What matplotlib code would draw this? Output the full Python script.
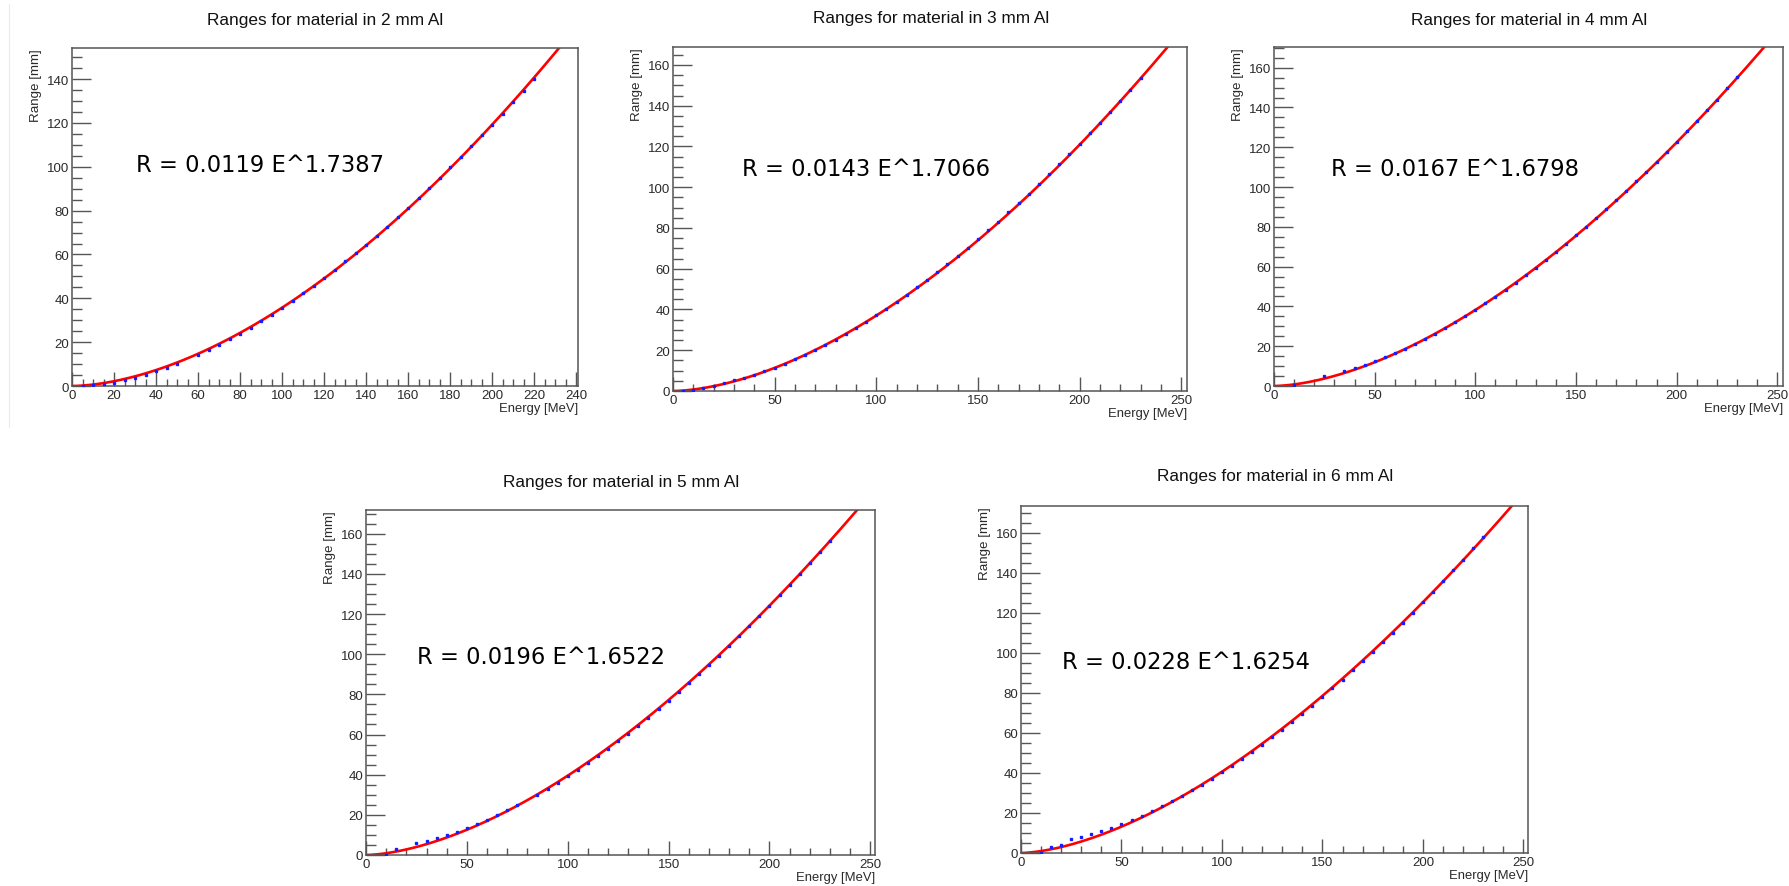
import numpy as np
import matplotlib
matplotlib.use('Agg')
import matplotlib.pyplot as plt
from matplotlib.ticker import MultipleLocator
from matplotlib.lines import Line2D

# Range vs energy in several Al thicknesses, one ROOT-style panel each

thickness = ['2', '3', '4', '5', '6']
fit_a = [0.0119, 0.0143, 0.0167, 0.0196, 0.0228]
fit_b = [1.7387, 1.7066, 1.6798, 1.6522, 1.6254]

energy_2mm = [5, 10, 15, 20, 25, 30, 35, 40, 45, 50, 60, 65, 70, 75, 80, 85, 90, 95,
              100, 105, 110, 115, 120, 125, 130, 135, 140, 145, 150, 155, 160, 165,
              170, 175, 180, 185, 190, 195, 200, 205, 210, 215, 220]
range_2mm = [0.0, 0.3, 0.8, 1.5, 2.6, 3.8, 5.2, 6.8, 8.4, 10.2, 14.2, 16.4, 18.7, 21.3,
             23.9, 26.6, 29.7, 32.6, 35.8, 39.0, 42.3, 45.8, 49.3, 53.0, 56.8, 60.6,
             64.5, 68.5, 72.7, 77.0, 81.3, 85.7, 90.2, 95.0, 99.7, 104.5, 109.4, 114.4,
             119.2, 124.3, 129.5, 134.8, 140.0]

energy_3mm = [5, 10, 15, 20, 25, 30, 35, 40, 45, 50, 55, 60, 65, 70, 75, 80, 85, 90, 95,
              100, 105, 110, 115, 120, 125, 130, 135, 140, 145, 150, 155, 160, 165,
              170, 175, 180, 185, 190, 195, 200, 205, 210, 215, 220, 225, 230]
range_3mm = [0.2, 0.5, 1.6, 2.5, 3.9, 5.2, 6.5, 8.0, 9.8, 11.5, 13.4, 15.5, 17.8, 20.1,
             22.6, 25.2, 28.0, 30.9, 33.9, 37.1, 40.4, 43.7, 47.3, 50.9, 54.5, 58.4,
             62.2, 66.3, 70.3, 74.6, 78.9, 83.1, 87.7, 92.1, 96.9, 101.6, 106.3, 111.4,
             116.5, 121.4, 126.6, 131.7, 137.1, 142.3, 147.7, 153.5]

energy_4mm = [10, 25, 35, 40, 45, 50, 55, 60, 65, 70, 75, 80, 85, 90, 95,
              100, 105, 110, 115, 120, 125, 130, 135, 140, 145, 150, 155, 160, 165,
              170, 175, 180, 185, 190, 195, 200, 205, 210, 215, 220, 225, 230]
range_4mm = [0.3, 4.9, 7.5, 9.0, 10.6, 12.6, 14.4, 16.6, 18.8, 21.1, 23.6, 26.3, 29.2,
             32.0, 35.0, 38.2, 41.5, 44.9, 48.2, 51.9, 55.6, 59.5, 63.3, 67.3, 71.5,
             75.7, 79.9, 84.4, 89.0, 93.5, 98.2, 102.9, 107.7, 112.7, 117.8, 122.8,
             128.0, 133.2, 138.5, 143.9, 149.6, 155.1]

energy_5mm = [10, 15, 25, 30, 35, 40, 45, 50, 55, 60, 65, 70, 75, 85, 90, 95,
              100, 105, 110, 115, 120, 125, 130, 135, 140, 145, 150, 155, 160, 165,
              170, 175, 180, 185, 190, 195, 200, 205, 210, 215, 220, 225, 230]
range_5mm = [0.2, 2.8, 5.8, 7.0, 8.3, 10.0, 11.6, 13.4, 15.4, 17.6, 19.9, 22.4, 24.7,
             30.0, 33.0, 36.0, 39.2, 42.3, 45.8, 49.3, 52.9, 56.6, 60.4, 64.4, 68.4,
             72.5, 76.7, 81.0, 85.5, 90.0, 94.6, 99.3, 104.1, 108.9, 113.9, 119.0,
             124.1, 129.3, 134.6, 139.9, 145.2, 150.9, 156.5]

energy_6mm = [10, 15, 20, 25, 30, 35, 40, 45, 50, 55, 60, 65, 70, 75, 80, 85, 90, 95,
              100, 105, 110, 115, 120, 125, 130, 135, 140, 145, 150, 155, 160, 165,
              170, 175, 180, 185, 190, 195, 200, 205, 210, 215, 220, 225, 230]
range_6mm = [0.2, 3.2, 4.0, 7.0, 8.1, 9.5, 11.0, 12.6, 14.5, 16.5, 18.6, 21.0, 23.3,
             25.9, 28.6, 31.3, 34.1, 37.1, 40.4, 43.6, 46.9, 50.6, 54.1, 57.9, 61.5,
             65.5, 69.5, 73.7, 77.8, 82.3, 86.7, 91.3, 95.8, 100.5, 105.3, 110.1,
             115.1, 120.1, 125.2, 130.4, 135.9, 141.2, 146.6, 152.2, 157.7]

energies = [energy_2mm, energy_3mm, energy_4mm, energy_5mm, energy_6mm]
ranges = [range_2mm, range_3mm, range_4mm, range_5mm, range_6mm]

# layout in pixels: axes box (left, top, right, bottom), title centre, fit text anchor
boxes = [(72, 49, 578, 387), (673, 48, 1187, 392), (1274, 48, 1783, 387),
         (366, 511, 875, 856), (1021, 507, 1528, 854)]
title_pos = [(325, 20), (931, 18), (1529, 20), (621, 482), (1275, 477)]
text_pos = [(136, 165), (742, 170), (1331, 170), (417, 658), (1062, 663)]
xmax = [240.9, 252.8, 252.8, 252.3, 252.3]
ymax = [154.2, 168.8, 170.4, 171.8, 173.4]
xmajor = [20, 50, 50, 50, 50]
xminor = [5, 10, 10, 10, 10]

W, H = 1790, 887
fig = plt.figure(figsize=(W / 100, H / 100), dpi=100)

def fx(px):
    return px / W

def fy(py):
    return 1 - py / H

root_font = 'Liberation Sans'
frame_col = '#555555'

for i in range(5):
    l, t, r, b = boxes[i]
    ax = fig.add_axes([fx(l), fy(b), (r - l) / W, (b - t) / H])
    ax.set_xlim(0, xmax[i])
    ax.set_ylim(0, ymax[i])

    e = np.linspace(0, xmax[i], 400)
    ax.plot(e, fit_a[i] * e ** fit_b[i], color='#ff0000', lw=1.9, zorder=2)
    ax.plot(energies[i], ranges[i], ls='none', marker='s', ms=1.6,
            color='#1a1aff', mec='#1a1aff', zorder=3)

    ax.xaxis.set_major_locator(MultipleLocator(xmajor[i]))
    ax.xaxis.set_minor_locator(MultipleLocator(xminor[i]))
    ax.yaxis.set_major_locator(MultipleLocator(20))
    ax.yaxis.set_minor_locator(MultipleLocator(5))
    ax.tick_params(axis='x', which='major', direction='in', length=10, width=1.0,
                   color=frame_col, pad=2, labelsize=9.5, labelcolor='#2a2a2a')
    ax.tick_params(axis='x', which='minor', direction='in', length=5, width=1.0,
                   color=frame_col)
    ax.tick_params(axis='y', which='major', direction='in', length=14, width=1.0,
                   color=frame_col, pad=2, labelsize=9.5, labelcolor='#2a2a2a')
    ax.tick_params(axis='y', which='minor', direction='in', length=7, width=1.0,
                   color=frame_col)
    for lab in ax.get_xticklabels() + ax.get_yticklabels():
        lab.set_fontfamily(root_font)
    for s in ax.spines.values():
        s.set_color(frame_col)
        s.set_linewidth(1.1)

    fig.text(fx(title_pos[i][0]), fy(title_pos[i][1]),
             'Ranges for material in ' + thickness[i] + ' mm Al',
             ha='center', va='center', fontsize=12.4, family=root_font, color='#111111')
    fig.text(fx(r), fy(b + 22), 'Energy [MeV]', ha='right', va='center',
             fontsize=9.4, family=root_font, color='#2a2a2a')
    fig.text(fx(l - 36), fy(t), 'Range [mm]', rotation=90, ha='center', va='top',
             fontsize=9.6, family=root_font, color='#2a2a2a')
    label = 'R = {} E^{}'.format(fit_a[i], fit_b[i])
    fig.text(fx(text_pos[i][0]), fy(text_pos[i][1]), label, ha='left', va='center',
             fontsize=16.3, family='DejaVu Sans', color='#000000')

# faint edge of the first screenshot
fig.add_artist(Line2D([fx(9), fx(9)], [fy(5), fy(428)], color='#ebebeb', lw=0.8))

fig.savefig('out.png', dpi=100)
